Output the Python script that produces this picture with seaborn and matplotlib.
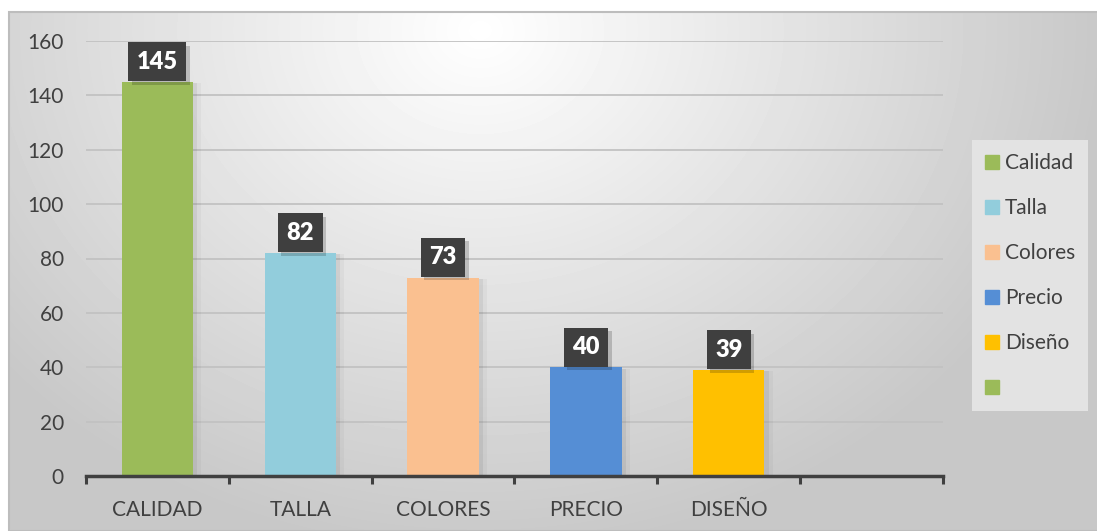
import numpy as np
import pandas as pd
import matplotlib
matplotlib.use("Agg")
import matplotlib.pyplot as plt
import matplotlib.patheffects as pe
from matplotlib.patches import Rectangle
from matplotlib.lines import Line2D
import seaborn as sns

# datos del gráfico
categorias = ["CALIDAD", "TALLA", "COLORES", "PRECIO", "DISEÑO", ""]
valores = [145, 82, 73, 40, 39]
leyenda = ["Calidad", "Talla", "Colores", "Precio", "Diseño", ""]
colores = ["#9BBB59", "#92CDDC", "#FAC090", "#558ED5", "#FFC000", "#9BBB59"]
yticks = [0, 20, 40, 60, 80, 100, 120, 140, 160]

TXT = "#404040"

sns.set_theme(style="white")
plt.rcParams["font.family"] = ["Lato", "DejaVu Sans"]

fig = plt.figure(figsize=(10.97, 5.31), dpi=100)
fig.patch.set_facecolor("white")

# fondo con degradado radial (estilo Excel)
W, H = 1097, 531
bg = fig.add_axes([9 / W, 0, 1 - 9 / W, 1 - 12 / H], zorder=0)
yy, xx = np.mgrid[12:H, 9:W]
d = np.sqrt(((xx - 480) / 620.0) ** 2 + ((yy - 30) / 520.0) ** 2)
shade = (255 - 55 * np.clip(d, 0, 1)) / 255.0
bg.imshow(shade, cmap="gray", vmin=0, vmax=1, aspect="auto",
          extent=[0, 1, 0, 1], interpolation="bilinear")
bg.set_axis_off()
fig.add_artist(Rectangle((9 / W, 0), 1, 1 - 12 / H, transform=fig.transFigure,
                         fill=False, edgecolor="#bdbdbd", linewidth=1.5, zorder=1))

ax = fig.add_axes([86 / W, 1 - 476 / H, (943 - 86) / W, (476 - 41) / H], zorder=2)
ax.patch.set_alpha(0)

df = pd.DataFrame({"cat": categorias[:5], "val": valores})
pal = dict(zip(categorias[:5], colores[:5]))
sns.barplot(data=df, x="cat", y="val", hue="cat", order=categorias,
            hue_order=categorias[:5], palette=pal, width=0.5, dodge=False,
            legend=False, saturation=1, linewidth=0, ax=ax, zorder=3)

for p in ax.patches:
    p.set_edgecolor("none")
    p.set_path_effects([pe.SimplePatchShadow(offset=(3, -1), alpha=0.06, shadow_rgbFace="black"),
                        pe.SimplePatchShadow(offset=(6, -1), alpha=0.03, shadow_rgbFace="black"),
                        pe.Normal()])

ax.set_xlim(-0.5, 5.5)
ax.set_ylim(0, 160)
ax.set_yticks(yticks)
ax.yaxis.grid(True, color="#c2c2c2", linewidth=1.3, zorder=1)
ax.set_axisbelow(True)
ax.set_xlabel("")
ax.set_ylabel("")
for s in ["top", "right", "left"]:
    ax.spines[s].set_visible(False)
ax.spines["bottom"].set_color(TXT)
ax.spines["bottom"].set_linewidth(2.5)
ax.spines["bottom"].set_zorder(4)

ax.set_xticks(np.arange(-0.5, 6.0, 1.0), minor=True)
ax.tick_params(axis="x", which="minor", bottom=True, length=6, width=2.2,
               color=TXT, direction="out")
ax.tick_params(axis="x", which="major", length=0, pad=17, labelsize=15, labelcolor=TXT)
ax.tick_params(axis="y", length=0, pad=16, labelsize=15, labelcolor=TXT)

# etiquetas de datos
for i, v in enumerate(valores):
    t = ax.annotate(str(v), (i, v), xytext=(0, 14.5), textcoords="offset points",
                    ha="center", va="center", fontsize=17, fontweight="heavy",
                    color="white", zorder=6,
                    bbox=dict(boxstyle="square,pad=0.36", facecolor="#3f3f3f",
                              edgecolor="none"))
    t.get_bbox_patch().set_path_effects([
        pe.SimplePatchShadow(offset=(2.5, -2.5), alpha=0.18, shadow_rgbFace="black"),
        pe.Normal()])

# leyenda
fig.add_artist(Rectangle((972 / W, 1 - 411 / H), (1088 - 972) / W, (411 - 140) / H,
                         transform=fig.transFigure, facecolor="#e3e3e3",
                         edgecolor="none", zorder=1))
handles = [Line2D([], [], marker="s", linestyle="none", markersize=10,
                  markerfacecolor=c, markeredgecolor=c) for c in colores]
leg = fig.legend(handles, leyenda, loc="upper left",
                 bbox_to_anchor=(976 / W, 1 - 145 / H), frameon=False,
                 fontsize=15, labelcolor=TXT, handlelength=0.7,
                 handletextpad=0.3, labelspacing=1.2, borderaxespad=0)
leg.set_zorder(5)

fig.savefig("out.png", dpi=100)
